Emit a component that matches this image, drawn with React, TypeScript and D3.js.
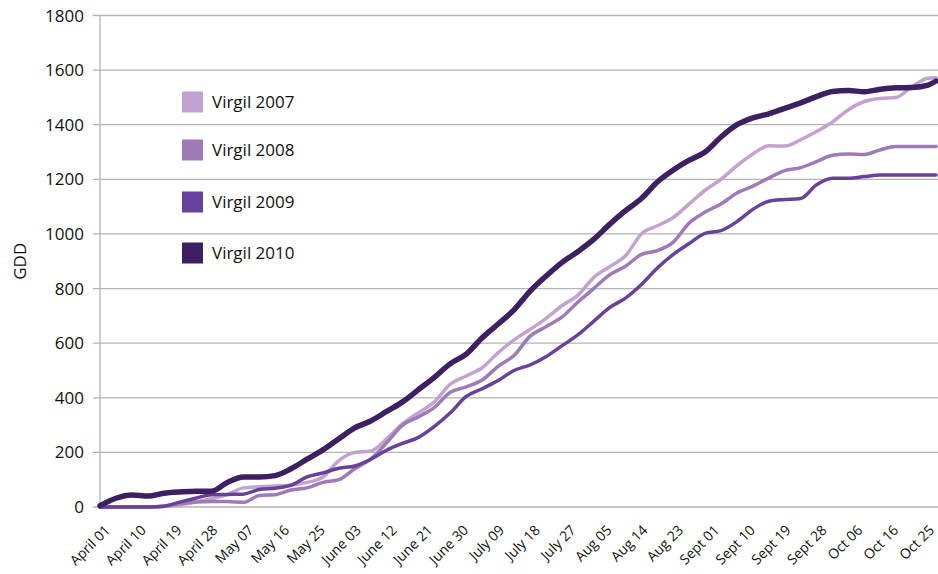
import * as React from 'react';
import { scaleLinear, line, curveMonotoneX } from 'd3';

// day offsets from April 01 for every sampled value
const dayOffsets = [0, 4, 8, 12, 16, 20, 24, 28, 32, 36, 40, 44, 48, 52, 56, 60, 64, 68, 72, 76, 80, 84, 88, 92, 96, 100, 104, 108, 112, 116, 120, 124, 128, 132, 136, 140, 144, 148, 152, 156, 160, 164, 168, 172, 176, 180, 184, 188, 192, 196, 200, 204, 208, 210];

const virgil2007 = [0, 0, 0, 0, 2, 8, 18, 30, 45, 70, 74, 77, 80, 90, 110, 170, 200, 205, 250, 305, 345, 385, 450, 480, 510, 565, 612, 650, 690, 737, 775, 840, 880, 920, 1000, 1030, 1060, 1110, 1160, 1200, 1250, 1293, 1323, 1322, 1345, 1375, 1410, 1455, 1485, 1496, 1500, 1540, 1570, 1572];
const virgil2008 = [0, 0, 0, 0, 3, 12, 18, 20, 20, 17, 42, 45, 62, 70, 90, 100, 140, 175, 235, 300, 330, 365, 420, 440, 465, 515, 555, 625, 660, 695, 750, 800, 850, 882, 925, 939, 970, 1040, 1080, 1110, 1150, 1175, 1205, 1232, 1243, 1265, 1288, 1293, 1291, 1308, 1320, 1320, 1320, 1320];
const virgil2009 = [0, 0, 0, 0, 3, 18, 32, 45, 46, 47, 64, 69, 80, 110, 125, 142, 150, 175, 208, 233, 255, 295, 345, 405, 433, 463, 500, 520, 550, 590, 630, 680, 730, 765, 815, 875, 925, 965, 1002, 1012, 1045, 1090, 1120, 1126, 1130, 1180, 1204, 1204, 1210, 1216, 1216, 1216, 1216, 1216];
const virgil2010 = [5, 32, 44, 40, 50, 55, 58, 58, 90, 110, 110, 115, 140, 175, 209, 250, 290, 315, 350, 385, 430, 475, 525, 560, 620, 670, 722, 790, 845, 895, 935, 980, 1035, 1085, 1130, 1190, 1234, 1270, 1300, 1355, 1400, 1425, 1440, 1460, 1480, 1503, 1522, 1525, 1521, 1530, 1535, 1536, 1545, 1560];

const seriesNames = ['Virgil 2007', 'Virgil 2008', 'Virgil 2009', 'Virgil 2010'];
const seriesValues = [virgil2007, virgil2008, virgil2009, virgil2010];
const seriesColors = ['#c2a2ce', '#9e7bb6', '#68429a', '#3d2062'];
const seriesWidths = [3.5, 3.5, 3.5, 5.5];

const yTicks = [0, 200, 400, 600, 800, 1000, 1200, 1400, 1600, 1800];
const xTickDays = [0, 9, 18, 27, 36, 45, 54, 63, 72, 81, 90, 99, 108, 117, 126, 135, 144, 153, 162, 171, 180, 189, 198, 207];
const xTickLabels = ['April 01', 'April 10', 'April 19', 'April 28', 'May 07', 'May 16', 'May 25', 'June 03', 'June 12', 'June 21', 'June 30', 'July 09', 'July 18', 'July 27', 'Aug 05', 'Aug 14', 'Aug 23', 'Sept 01', 'Sept 10', 'Sept 19', 'Sept 28', 'Oct 06', 'Oct 16', 'Oct 25'];

const W = 938;
const H = 574;
const margin = { top: 15.5, right: 0, bottom: 67, left: 100 };
const font = '"Open Sans", "Liberation Sans", sans-serif';

const App = () => {
    const x = scaleLinear().domain([0, 210.5]).range([margin.left, W - margin.right]);
    const y = scaleLinear().domain([0, 1800]).range([H - margin.bottom, margin.top]);

    const lineGen = line<number>()
        .x((d, i) => x(dayOffsets[i]))
        .y((d) => y(d))
        .curve(curveMonotoneX);

    return (
        <div style={{ position: 'absolute', left: 0, top: 0 }}>
            <svg width={W} height={H} style={{ display: 'block', background: 'white', fontFamily: font }}>
                {/* grid */}
                <g className="grid">
                    {yTicks.map((t) => (
                        <line key={t} x1={margin.left - 7} x2={W} y1={y(t)} y2={y(t)} stroke="#b3b3b3" strokeWidth={1.3} />
                    ))}
                    <line x1={margin.left} x2={margin.left} y1={margin.top} y2={y(0)} stroke="#b3b3b3" strokeWidth={1.3} />
                </g>

                {/* y axis labels */}
                <g className="y-axis">
                    {yTicks.map((t) => (
                        <text key={t} x={84} y={y(t) + 6} textAnchor="end" fontSize={17} fill="#111">{t}</text>
                    ))}
                </g>
                <text transform={`translate(26, ${(margin.top + y(0)) / 2}) rotate(-90)`} textAnchor="middle" fontSize={17} fill="#111">GDD</text>

                {/* x axis labels */}
                <g className="x-axis">
                    {xTickDays.map((d, i) => (
                        <text key={d} transform={`translate(${x(d) + 11}, ${y(0) + 24}) rotate(-45)`} textAnchor="end" fontSize={14} fill="#111">
                            {xTickLabels[i]}
                        </text>
                    ))}
                </g>

                {/* series */}
                <g className="lines">
                    {seriesValues.map((vals, i) => (
                        <path key={seriesNames[i]} d={lineGen(vals) || ''} fill="none" stroke={seriesColors[i]} strokeWidth={seriesWidths[i]} strokeLinejoin="round" strokeLinecap="round" />
                    ))}
                </g>

                {/* legend */}
                <g className="legend">
                    {seriesNames.map((name, i) => {
                        const cy = [102, 150, 202, 253][i];
                        return (
                            <g key={name}>
                                <rect x={182} y={cy - 10.5} width={21} height={21} fill={seriesColors[i]} />
                                <text x={212} y={cy + 6} fontSize={17} fill="#111">{name}</text>
                            </g>
                        );
                    })}
                </g>
            </svg>
        </div>
    );
};

export default App;
